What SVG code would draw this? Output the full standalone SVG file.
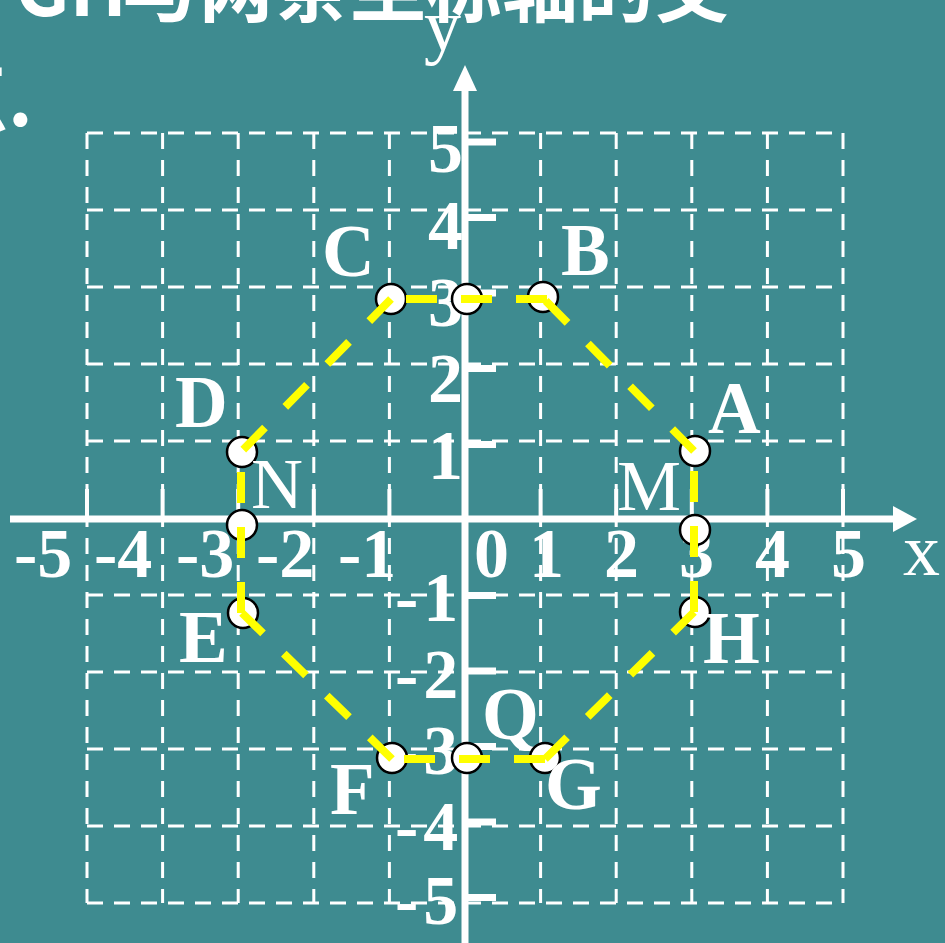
<svg xmlns="http://www.w3.org/2000/svg" width="945" height="943" viewBox="0 0 945 943">
<style>
.grid line{stroke:#fff;stroke-width:3;stroke-dasharray:16 11;fill:none}
.ax{stroke:#fff;stroke-width:7;fill:none}
.tick{fill:#fff}
.num{font-family:"Liberation Serif","Times New Roman",serif;font-weight:bold;font-size:70px;fill:#fff}
.lab{font-family:"Liberation Serif","Times New Roman",serif;font-weight:bold;font-size:73px;fill:#fff}
.labn{font-family:"Liberation Serif","Times New Roman",serif;font-weight:normal;font-size:72px;fill:#fff}
.axl{font-family:"Liberation Serif","Times New Roman",serif;font-weight:normal;font-size:74px;fill:#fff}
.title{font-family:"Noto Sans CJK SC","Noto Sans",sans-serif;font-weight:bold;font-size:76px;fill:#fff}
.pt{fill:#fff;stroke:#000;stroke-width:2.5}
.edge line{stroke:#ffff00;stroke-width:8;fill:none}
.hv{stroke-dasharray:31 24}
.dg{stroke-dasharray:31 29}
</style>
<rect x="0" y="0" width="945" height="943" fill="#3e8b90"/>
<text class="title" y="16"><tspan x="15">GH</tspan><tspan x="122">与两条坐标轴的交</tspan></text>
<text class="title" x="-68" y="126">点.</text>
<g class="grid" id="grid">
<line x1="87" y1="133" x2="87" y2="903"/>
<line x1="162.6" y1="133" x2="162.6" y2="903"/>
<line x1="238.2" y1="133" x2="238.2" y2="903"/>
<line x1="313.8" y1="133" x2="313.8" y2="903"/>
<line x1="389.4" y1="133" x2="389.4" y2="903"/>
<line x1="540.6" y1="133" x2="540.6" y2="903"/>
<line x1="616.2" y1="133" x2="616.2" y2="903"/>
<line x1="691.8" y1="133" x2="691.8" y2="903"/>
<line x1="767.4" y1="133" x2="767.4" y2="903"/>
<line x1="843" y1="133" x2="843" y2="903"/>
<line x1="87" y1="133" x2="843" y2="133"/>
<line x1="87" y1="210" x2="843" y2="210"/>
<line x1="87" y1="287" x2="843" y2="287"/>
<line x1="87" y1="364" x2="843" y2="364"/>
<line x1="87" y1="441" x2="843" y2="441"/>
<line x1="87" y1="595" x2="843" y2="595"/>
<line x1="87" y1="672" x2="843" y2="672"/>
<line x1="87" y1="749" x2="843" y2="749"/>
<line x1="87" y1="826" x2="843" y2="826"/>
<line x1="87" y1="903" x2="843" y2="903"/>
</g>
<g id="axes">
<line class="ax" x1="10" y1="519" x2="897" y2="519"/>
<polygon fill="#fff" points="917,519 893,506 893,532"/>
<line class="ax" x1="465" y1="943" x2="465" y2="88"/>
<polygon fill="#fff" points="465,65 453,91 477,91"/>
<g class="tick">
<rect x="465" y="138.5" width="31" height="7"/>
<rect x="465" y="214" width="31" height="7"/>
<rect x="465" y="289.5" width="31" height="7"/>
<rect x="465" y="365" width="31" height="7"/>
<rect x="465" y="441" width="31" height="7"/>
<rect x="465" y="592" width="31" height="7"/>
<rect x="465" y="667.5" width="31" height="7"/>
<rect x="465" y="743" width="31" height="7"/>
<rect x="465" y="818.5" width="31" height="7"/>
<rect x="465" y="894" width="31" height="7"/>
<rect x="85" y="489" width="4" height="30"/>
<rect x="160.6" y="489" width="4" height="30"/>
<rect x="236.2" y="489" width="4" height="30"/>
<rect x="311.8" y="489" width="4" height="30"/>
<rect x="387.4" y="489" width="4" height="30"/>
<rect x="538.6" y="489" width="4" height="30"/>
<rect x="614.2" y="489" width="4" height="30"/>
<rect x="689.8" y="489" width="4" height="30"/>
<rect x="765.4" y="489" width="4" height="30"/>
<rect x="841" y="489" width="4" height="30"/>
</g>
<text class="axl" x="424" y="50">y</text>
<text class="axl" x="903" y="575">x</text>
</g>
<g id="xlabels" class="num">
<text x="14" y="577">-5</text>
<text x="94" y="577">-4</text>
<text x="176" y="577">-3</text>
<text x="256" y="577">-2</text>
<text x="338" y="577">-1</text>
<text x="474" y="577">0</text>
<text x="529" y="577">1</text>
<text x="604" y="577">2</text>
<text x="679" y="577">3</text>
<text x="755" y="577">4</text>
<text x="831" y="577">5</text>
</g>
<g id="ylabels" class="num">
<g text-anchor="end">
<text x="463" y="172">5</text>
<text x="463" y="249">4</text>
<text x="463" y="326">3</text>
<text x="463" y="402">2</text>
<text x="463" y="479">1</text>
</g>
<text x="395" y="621">-<tspan dx="5">1</tspan></text>
<text x="395" y="698">-<tspan dx="5">2</tspan></text>
<text x="395" y="774">-<tspan dx="5">3</tspan></text>
<text x="395" y="850">-<tspan dx="5">4</tspan></text>
<text x="395" y="924">-<tspan dx="5">5</tspan></text>
</g>
<g id="A"><circle class="pt" cx="695" cy="451" r="15"/><text class="lab" x="708" y="433">A</text></g>
<g id="B"><circle class="pt" cx="543" cy="297" r="15"/><text class="lab" x="561" y="275">B</text></g>
<g id="P3"><circle class="pt" cx="467" cy="299" r="15"/></g>
<g id="C"><circle class="pt" cx="391" cy="299" r="15"/><text class="lab" x="322" y="276">C</text></g>
<g id="D"><circle class="pt" cx="242" cy="452" r="15"/><text class="lab" x="175" y="427">D</text></g>
<g id="N"><circle class="pt" cx="242" cy="525" r="15"/><text class="labn" x="251" y="508">N</text></g>
<g id="E"><circle class="pt" cx="243" cy="613" r="15"/><text class="lab" x="179" y="662">E</text></g>
<g id="F"><circle class="pt" cx="392" cy="758" r="15"/><text class="lab" x="330" y="814">F</text></g>
<g id="Q"><circle class="pt" cx="467" cy="758" r="15"/><text class="lab" x="482" y="739">Q</text></g>
<g id="G"><circle class="pt" cx="545" cy="758" r="15"/><text class="lab" x="545" y="809">G</text></g>
<g id="H"><circle class="pt" cx="695" cy="612" r="15"/><text class="lab" x="703" y="663">H</text></g>
<g id="M"><circle class="pt" cx="695" cy="530" r="15"/><text class="labn" x="617" y="510">M</text></g>
<g id="connectors" class="edge">
<line class="dg" x1="694" y1="451" x2="543" y2="298"/>
<line class="hv" x1="547" y1="299" x2="391" y2="299"/>
<line class="dg" x1="391" y1="299" x2="241" y2="452"/>
<line class="hv" x1="241" y1="613" x2="241" y2="452"/>
<line class="dg" x1="392" y1="759" x2="242" y2="613"/>
<line class="hv" x1="545" y1="759" x2="392" y2="759"/>
<line class="dg" x1="545" y1="759" x2="694" y2="612"/>
<line class="hv" x1="694" y1="612" x2="694" y2="451"/>
</g>
</svg>
